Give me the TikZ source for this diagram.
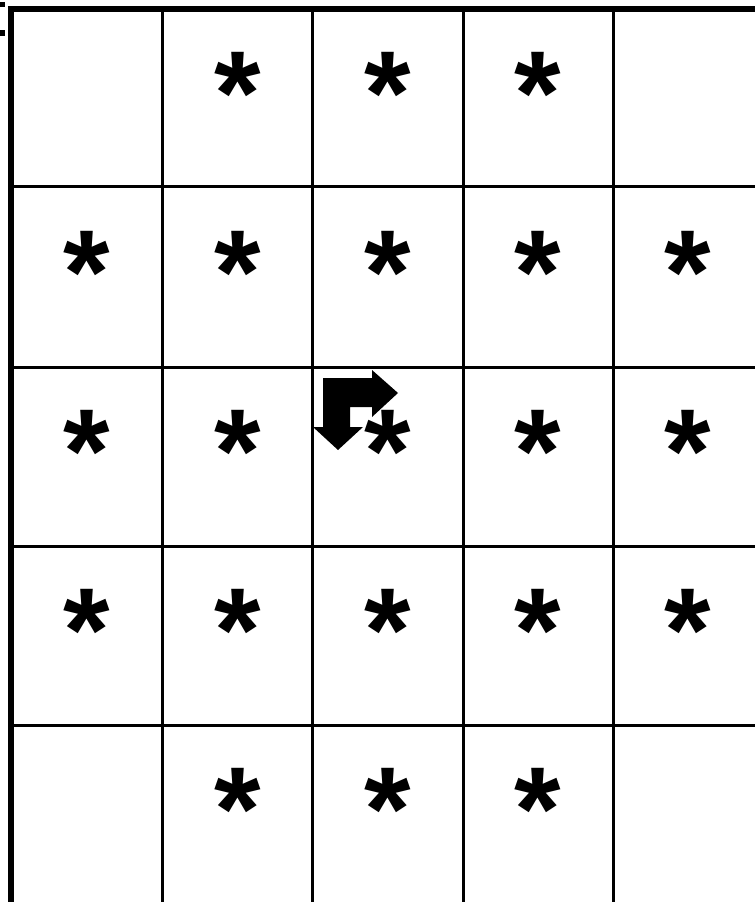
\documentclass[tikz,border=0pt]{standalone}
\usepackage{fontspec}
\setsansfont{Liberation Sans}
\usetikzlibrary{positioning}

\begin{document}
\begin{tikzpicture}[x=0.02cm, y=-0.02cm,
gridline/.style={line width=0.06cm, black},
frameline/.style={line width=0.12cm, black},
star/.style={font=\sffamily\bfseries\fontsize{68}{68}\selectfont, inner sep=0pt, anchor=north},
turnarrow/.style={fill=black, draw=none}
]
\useasboundingbox (0,0) rectangle (755,902);
% Thin grid lines
\foreach \x in {162,312,463,613} \draw[gridline] (\x,9) -- (\x,902);
\foreach \y in {187,367,546,725} \draw[gridline] (11,\y) -- (755,\y);
% Thick frame on top and left
\draw[frameline] (11,902) -- (11,9) -- (755,9);
% Cut-off marks at the top left
\fill (0,2) rectangle (5,7);
\fill (0,30) rectangle (5,36);
% Turning arrow in the middle cell
\fill[turnarrow] (323,378) -- (372,378) -- (372,370) -- (398,393) -- (372,417) -- (372,407) -- (350,407)
  -- (350,427) -- (363,427) -- (338,450) -- (313,427) -- (323,427) -- cycle;
% Stars, row by row
\foreach \r/\y/\cols in {1/52/{2,3,4}, 2/231/{1,2,3,4,5}, 3/410/{1,2,3,4,5}, 4/589/{1,2,3,4,5}, 5/768/{2,3,4}}
  \foreach \c in \cols
    \node[star] (star-\r-\c) at ({87+150.3*(\c-1)},\y) {*};
\end{tikzpicture}
\end{document}
